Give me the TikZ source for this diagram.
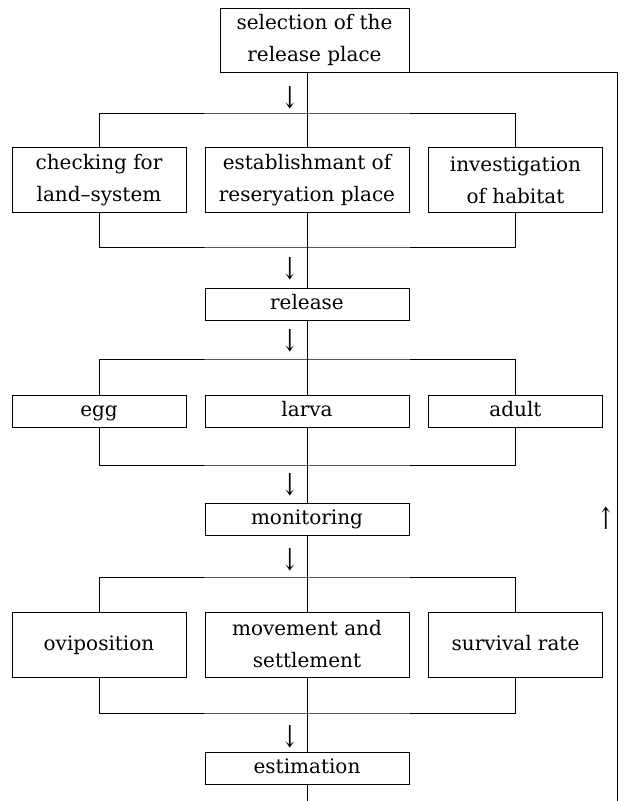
\documentclass[tikz,border=0pt]{standalone}
\usepackage{fontspec}
\setmainfont{DejaVu Serif}
\newcommand{\drawfork}[4]{
    \draw (#1.#4) |- (#3) -| (#2.#4);
}
\newcommand{\tallarrow}[1]{\scalebox{1.1}[1.6]{#1}}

\begin{document}
\begin{tikzpicture}[x=1pt, y=-1pt, font=\fontsize{20}{32}\selectfont, line width=0.9pt]
\tikzset{box/.style={draw, fill=white, align=center, inner sep=0},
    sidebox/.style={box, minimum width=174pt},
    midbox/.style={box, minimum width=204pt},
    tall/.style={minimum height=65pt},
    flat/.style={minimum height=32pt, text height=14pt, text depth=4pt},
    arw/.style={inner sep=0, font=\fontsize{19}{19}\selectfont}}
\useasboundingbox (0,0) rectangle (622,801);

\node[box, minimum width=189pt, minimum height=64pt] (sel) at (314.5,40) {selection of the\\release place};

\node[sidebox, tall] (chk) at (99,180) {checking for\\land--system};
\node[midbox, tall] (est) at (307,180) {establishmant of\\reseryation place};
\node[sidebox, tall] (inv) at (515.5,180) {investigation\\of habitat};

\node[midbox, flat] (rel) at (307,304.5) {release};

\node[sidebox, flat] (egg) at (99,411.5) {egg};
\node[midbox, flat] (lar) at (307,411.5) {larva};
\node[sidebox, flat] (adu) at (515.5,411.5) {adult};

\node[midbox, flat] (mon) at (307,519) {monitoring};

\node[sidebox, tall] (ovi) at (99,644.5) {oviposition\strut};
\node[midbox, tall] (mov) at (307,644.5) {movement and\\settlement};
\node[sidebox, tall] (sur) at (515.5,644.5) {survival rate\strut};

\node[midbox, flat] (esti) at (307,768.5) {estimation};

\coordinate (f1) at (307,113); \coordinate (j1) at (307,247);
\coordinate (f2) at (307,359); \coordinate (j2) at (307,465);
\coordinate (f3) at (307,577); \coordinate (j3) at (307,713);
\coordinate (fb) at (617,801); \coordinate (tail) at (307,801);

% forks
\drawfork{chk}{inv}{f1}{north}
\drawfork{chk}{inv}{j1}{south}
\drawfork{egg}{adu}{f2}{north}
\drawfork{egg}{adu}{j2}{south}
\drawfork{ovi}{sur}{f3}{north}
\drawfork{ovi}{sur}{j3}{south}

% main line
\draw (sel.south -| est.north) -- (est.north);
\draw (est.south) -- (rel.north);
\draw (rel.south) -- (lar.north);
\draw (lar.south) -- (mon.north);
\draw (mon.south) -- (mov.north);
\draw (mov.south) -- (esti.north);
\draw (esti.south) -- (tail);

% feedback
\draw (sel.south -| est.north) -| (fb);

\foreach \y [count=\i] in {98,269,341,485,560,737}
    \node[arw] (dn\i) at (290,\y) {\tallarrow{↓}};
\node[arw] (up) at (606,518) {\tallarrow{↑}};
\end{tikzpicture}
\end{document}
